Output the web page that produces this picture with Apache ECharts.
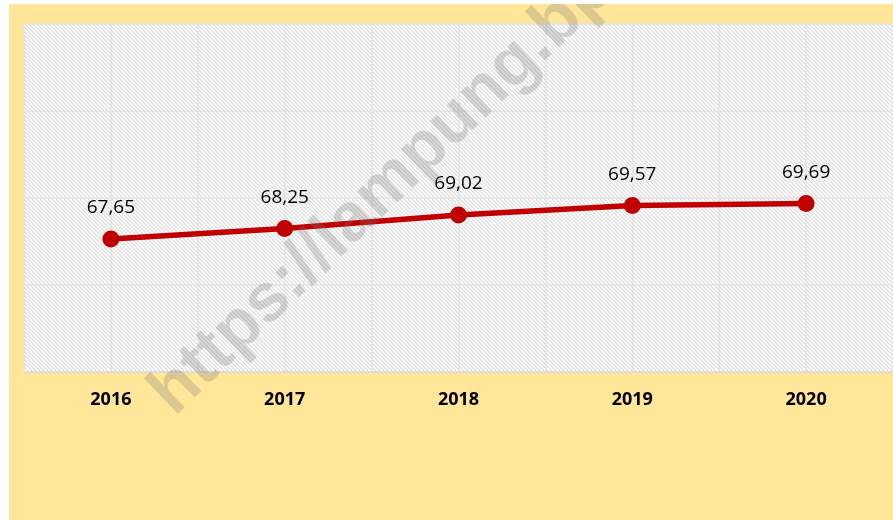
<!DOCTYPE html>
<html>
<head>
<meta charset="utf-8">
<script src="https://cdn.jsdelivr.net/npm/echarts@6/dist/echarts.min.js"></script>
<style>
  html, body { margin: 0; padding: 0; background: #ffffff; }
  #main { position: absolute; left: 9px; top: 4px; width: 884px; height: 516px; }
</style>
</head>
<body>
<div id="main"></div>
<script>
var years = ['2016', '2017', '2018', '2019', '2020'];
var values = [67.65, 68.25, 69.02, 69.57, 69.69];
var yMin = 60, yMax = 80, yStep = 5;

// hatch pattern for the plot area
var hatch = document.createElement('canvas');
hatch.width = 4; hatch.height = 4;
var ctx = hatch.getContext('2d');
ctx.fillStyle = '#ffffff';
ctx.fillRect(0, 0, 4, 4);
ctx.strokeStyle = '#dadada';
ctx.lineWidth = 1.1;
ctx.beginPath();
ctx.moveTo(-1, -1); ctx.lineTo(5, 5);
ctx.moveTo(-1, 3); ctx.lineTo(1, 5);
ctx.moveTo(3, -1); ctx.lineTo(5, 1);
ctx.stroke();

var chart = echarts.init(document.getElementById('main'));
var option = {
    backgroundColor: '#FFE699',
    grid: {
        left: 15, right: -1, top: 20, bottom: 148,
        show: true,
        backgroundColor: { image: hatch, repeat: 'repeat' },
        borderWidth: 0
    },
    xAxis: [{
        type: 'category',
        data: years,
        boundaryGap: true,
        axisLine: { lineStyle: { color: '#d9d9d9', width: 1.5 } },
        axisTick: { show: false },
        splitLine: { show: false },
        axisLabel: {
            margin: 19,
            color: '#000000',
            fontWeight: 'bold',
            fontSize: 18,
            fontFamily: 'Open Sans'
        }
    }, {
        // helper axis just for the vertical gridlines (every half category)
        type: 'value',
        min: 0, max: 10, interval: 1,
        position: 'top',
        axisLine: { show: false },
        axisTick: { show: false },
        axisLabel: { show: false },
        splitLine: { show: true, lineStyle: { color: '#e3e3e3', width: 1.5 } }
    }],
    yAxis: {
        type: 'value',
        min: yMin, max: yMax, interval: yStep,
        axisLine: { show: false },
        axisTick: { show: false },
        axisLabel: { show: false },
        splitLine: { lineStyle: { color: '#e3e3e3', width: 1.5 } }
    },
    series: [{
        type: 'line',
        data: values,
        xAxisIndex: 0,
        symbol: 'circle',
        symbolSize: 17,
        lineStyle: { color: '#C00000', width: 5.5 },
        itemStyle: { color: '#C00000' },
        label: {
            show: true,
            position: 'top',
            distance: 13,
            color: '#000000',
            fontSize: 19,
            fontFamily: 'Open Sans',
            formatter: function (p) { return p.value.toFixed(2).replace('.', ','); }
        },
        z: 5
    }],
    graphic: [{
        type: 'text',
        x: 176, y: 424,
        rotation: Math.PI / 4.1,
        z: 100,
        style: {
            text: 'https://lampung.bps.go.id',
            fill: 'rgba(120,120,120,0.27)',
            font: 'bold 68px "Liberation Sans"',
            textVerticalAlign: 'bottom'
        }
    }]
};
chart.setOption(option);
</script>
</body>
</html>
